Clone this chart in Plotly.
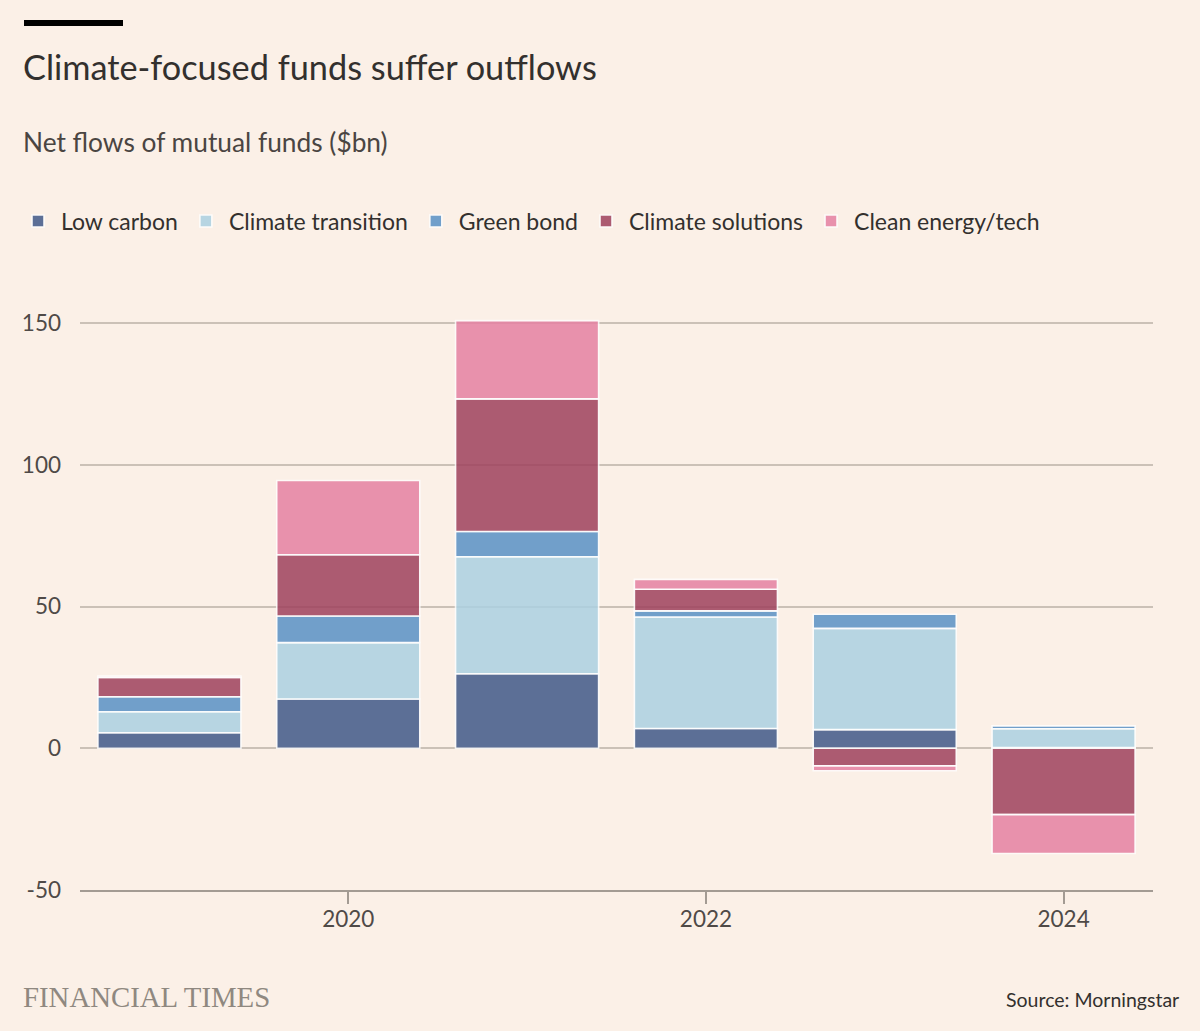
import plotly.graph_objects as go

years = [2019, 2020, 2021, 2022, 2023, 2024]
low_carbon = [5.5, 17.4, 26.3, 7.0, 6.6, 0.3]
climate_transition = [7.4, 19.9, 41.3, 39.3, 35.7, 6.6]
green_bond = [5.3, 9.4, 8.9, 2.2, 5.0, 1.0]
climate_solutions = [6.8, 21.6, 46.8, 7.6, -6.2, -23.4]
clean_energy = [0.5, 26.2, 27.6, 3.5, -1.7, -13.7]

series_names = ["Low carbon", "Climate transition", "Green bond", "Climate solutions", "Clean energy/tech"]
series_values = [low_carbon, climate_transition, green_bond, climate_solutions, clean_energy]
colors = ["#415988", "#acd1e2", "#5a91c5", "#9f425d", "#e581a2"]

y_tickvals = [-50, 0, 50, 100, 150]
y_ticktext = ["-50", "0", "50", "100", "150"]
x_tickvals = [2020, 2022, 2024]

BG = "#fbf0e7"
TXT = "#33302e"
FONT = "Lato, Noto Sans, sans-serif"

fig = go.Figure()
for name, vals, col in zip(series_names, series_values, colors):
    fig.add_trace(go.Bar(
        x=years, y=vals, name=name,
        marker=dict(color=col, line=dict(color="rgba(255,255,255,0.95)", width=1.6)),
        opacity=0.85,
    ))

# plot area: x 80..1153, y 309..890
L, R, T, B = 80, 47, 309, 141
W, H = 1200, 1031
pw, ph = W - L - R, H - T - B

def px(x):
    return (x - L) / pw

def py(y):
    return (H - B - y) / ph

fig.update_layout(
    width=W, height=H,
    margin=dict(l=L, r=R, t=T, b=B, pad=0),
    paper_bgcolor=BG, plot_bgcolor=BG,
    barmode="relative", bargap=0.2,
    font=dict(family=FONT, color=TXT, size=20),
    showlegend=True,
    legend=dict(
        orientation="h", x=px(15), y=py(221), xanchor="left", yanchor="middle",
        font=dict(size=23, color=TXT), bgcolor="rgba(0,0,0,0)",
        traceorder="normal", itemclick=False, itemwidth=36,
    ),
    xaxis=dict(
        range=[2018.5, 2024.5], tickvals=x_tickvals, ticktext=[str(v) for v in x_tickvals],
        showgrid=False, zeroline=False, showline=True, linecolor="#a39b93", linewidth=2,
        ticks="outside", ticklen=12, tickwidth=1.5, tickcolor="#a39b93",
        ticklabelstandoff=-4,
        tickfont=dict(size=22.5, color="#4f4a47"),
    ),
    yaxis=dict(
        range=[-50, 155], tickvals=y_tickvals, ticktext=y_ticktext,
        showgrid=True, gridcolor="#cbc1b7", gridwidth=1.5,
        zeroline=True, zerolinecolor="#cbc1b7", zerolinewidth=1.5,
        showline=False, ticks="", ticklabelstandoff=18,
        tickfont=dict(size=22.5, color="#4f4a47"),
    ),
    shapes=[dict(type="rect", xref="paper", yref="paper", x0=px(24), x1=px(123), y0=py(26), y1=py(20),
                 fillcolor="#000000", line=dict(width=0))],
    annotations=[
        dict(text="Climate-focused funds suffer outflows", xref="paper", yref="paper",
             x=px(21), y=py(67), xanchor="left", yanchor="middle", showarrow=False,
             font=dict(size=34.3, color=TXT, family=FONT)),
        dict(text="Net flows of mutual funds ($bn)", xref="paper", yref="paper",
             x=px(21), y=py(142), xanchor="left", yanchor="middle", showarrow=False,
             font=dict(size=26.3, color="#4a4542", family=FONT)),
        dict(text="FINANCIAL TIMES", xref="paper", yref="paper",
             x=px(21), y=py(997), xanchor="left", yanchor="middle", showarrow=False,
             font=dict(size=28.8, color="#8f8880", family="Liberation Serif, serif")),
        dict(text="Source: Morningstar", xref="paper", yref="paper",
             x=px(1181), y=py(999), xanchor="right", yanchor="middle", showarrow=False,
             font=dict(size=19.5, color=TXT, family=FONT)),
    ],
)

fig.write_html(
    "out.html",
    config={"displayModeBar": False},
    post_script="document.body.style.margin='0';document.body.style.background='%s';" % BG,
)
